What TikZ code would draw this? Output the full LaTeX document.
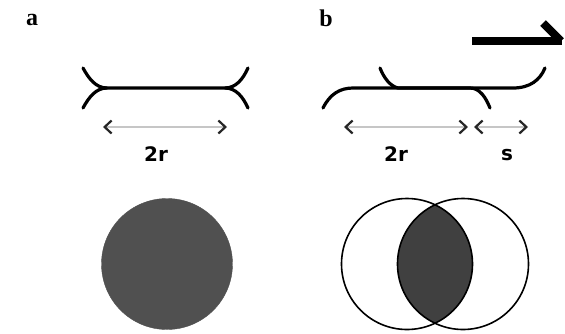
\documentclass[tikz,border=0pt]{standalone}
\usepackage{fontspec}
\setmainfont{Liberation Serif}
\newfontfamily\labsans{DejaVu Sans}
\usetikzlibrary{arrows.meta,calc}
\definecolor{discgray}{HTML}{505050}
\definecolor{lensgray}{HTML}{404040}
\tikzset{
  panel/.style={font=\fontsize{24}{24}\selectfont\bfseries, inner sep=0pt},
  dimlab/.style={font=\labsans\fontsize{20}{20}\selectfont\bfseries, inner sep=0pt},
  memb/.style={line width=3.2pt, line cap=round, black},
  dimarrow/.style={line width=2.8pt, gray!45,
    {Straight Barb[length=7pt,width=13pt,line width=2.2pt,color=black!85]}-{Straight Barb[length=7pt,width=13pt,line width=2.2pt,color=black!85]}},
  bigarrow/.style={line width=8pt, black},
}
\begin{document}
\begin{tikzpicture}[x=1pt,y=-1pt]
\useasboundingbox (0,0) rectangle (565,333);
% labels
\node[panel] (la) at (32,20) {a};
\node[panel] (lb) at (326,18) {b};
% panel a membranes
\coordinate (aL) at (107,88);
\coordinate (aR) at (225,88);
\draw[memb] (83,68) .. controls (89,79) and (96,88) .. (aL) -- (aR) .. controls (236,88) and (243,79) .. (248,68);
\draw[memb] (83,108) .. controls (89,97) and (96,88) .. (aL);
\draw[memb] (aR) .. controls (236,88) and (243,97) .. (248,108);
% panel a arrow
\coordinate (a1) at (103,127);
\coordinate (a2) at (227,127);
\draw[dimarrow] (a1) -- (a2);
\node[dimlab] (l2ra) at (156,154) {2r};
% panel b membranes
\coordinate (bl1) at (353,88);
\coordinate (bl2) at (470,88);
\draw[memb] (323,108) .. controls (330,94) and (340,88) .. (bl1) -- (bl2) .. controls (480,88) and (486,98) .. (490,108);
\coordinate (bu1) at (398,88);
\coordinate (bu2) at (513,88);
\draw[memb] (380,68) .. controls (384,78) and (390,86) .. (bu1) -- (bu2) .. controls (530,88) and (540,80) .. (545,68);
% panel b arrows
\coordinate (b1) at (344,127);
\coordinate (b2) at (468,127);
\coordinate (b3) at (474,127);
\coordinate (b4) at (528,127);
\draw[dimarrow] (b1) -- (b2);
\draw[dimarrow] (b3) -- (b4);
\node[dimlab] (l2rb) at (396,154) {2r};
\node[dimlab] (ls) at (507,155) {s};
% big arrow
\coordinate (h0) at (472,41);
\coordinate (h1) at (562,41);
\coordinate (h2) at (543,23);
\draw[bigarrow] (h0) -- (h1);
\draw[bigarrow, line cap=butt] (h2) -- ($(h1)+(-1,0)$);
% circles
\node[circle, fill=discgray, draw=discgray, minimum size=131pt, inner sep=0pt] (disc) at (167,264) {};
\coordinate (c1) at (407,264);
\coordinate (c2) at (463,264);
\begin{scope}
  \clip (c1) circle (65.5);
  \fill[lensgray] (c2) circle (65.5);
\end{scope}
\node[circle, draw=black, line width=1.6pt, minimum size=131pt, inner sep=0pt] (circL) at (c1) {};
\node[circle, draw=black, line width=1.6pt, minimum size=131pt, inner sep=0pt] (circR) at (c2) {};
\end{tikzpicture}
\end{document}
